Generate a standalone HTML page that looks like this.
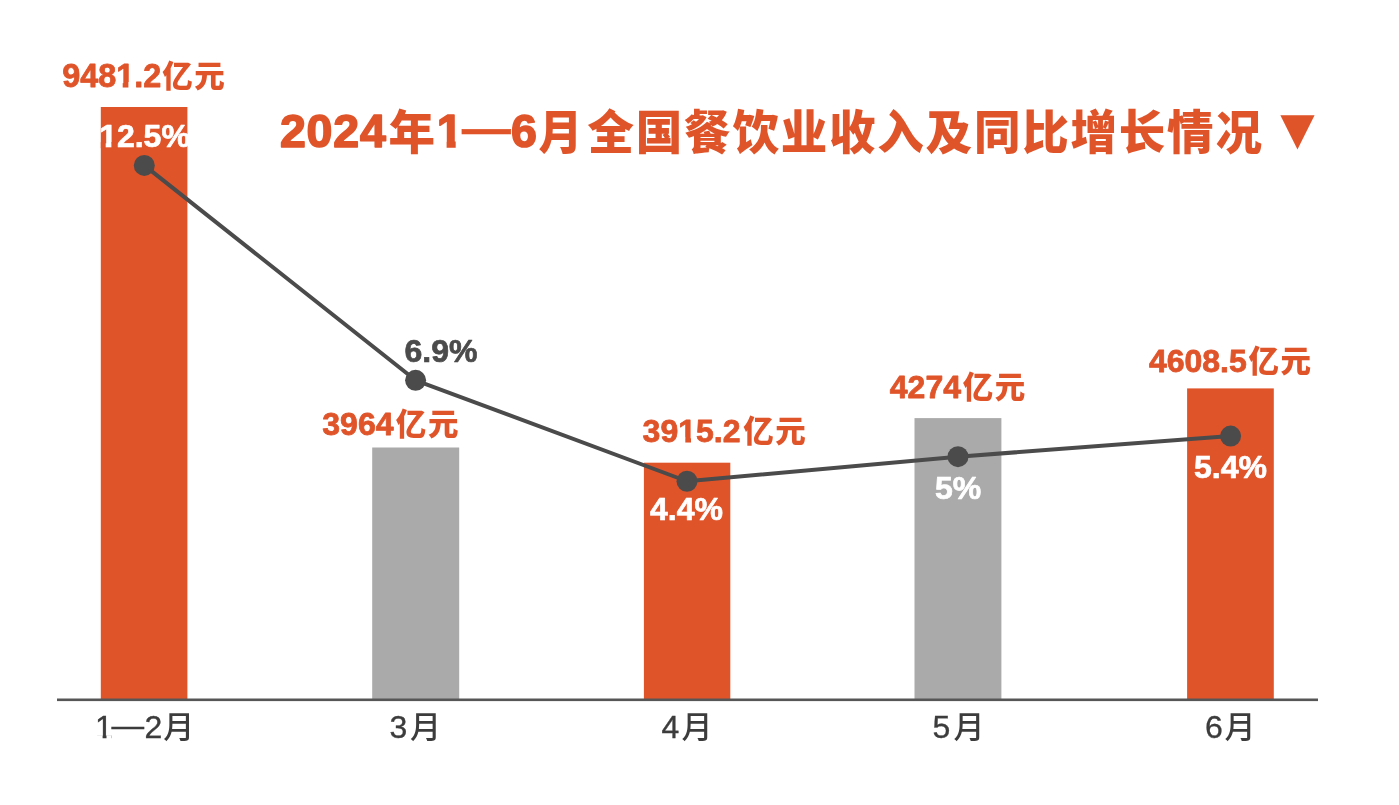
<!DOCTYPE html>
<html lang="zh-CN">
<head>
<meta charset="utf-8">
<title>2024年1—6月全国餐饮业收入及同比增长情况</title>
<style>
html,body{margin:0;padding:0;background:#fff;}
body{width:1399px;height:805px;overflow:hidden;}
svg{display:block;}
.v{font-family:"Liberation Sans",sans-serif;font-weight:700;font-size:32px;fill:#e0542a;stroke:#e0542a;stroke-width:0.8px;stroke-linejoin:round;}
.v .c{font-family:"Noto Sans CJK SC",sans-serif;font-weight:900;font-size:30.5px;stroke:none;}
.p{font-family:"Liberation Sans",sans-serif;font-weight:700;font-size:32px;stroke-width:0.7px;stroke-linejoin:round;}
.m{font-family:"Liberation Sans",sans-serif;font-weight:400;font-size:32px;fill:#3c3c3c;stroke:#3c3c3c;stroke-width:0.35px;}
.m .mc{font-family:"Noto Sans CJK SC",sans-serif;font-weight:500;font-size:31px;stroke:none;}
.t{font-family:"Noto Sans CJK SC",sans-serif;font-weight:900;font-size:46.5px;fill:#e0542a;}
.t .ta{font-family:"DejaVu Sans",sans-serif;font-weight:400;font-size:44.8px;}
.t .tm{font-family:"Liberation Sans",sans-serif;font-weight:700;font-size:46.5px;stroke:#e0542a;stroke-width:0.7px;}
.t .td{font-family:"Liberation Sans",sans-serif;font-weight:700;font-size:46.5px;stroke:#e0542a;stroke-width:1.6px;stroke-linejoin:round;}
</style>
</head>
<body>
<svg width="1399" height="805" viewBox="0 0 1399 805">
<rect width="1399" height="805" fill="#ffffff"/>
<!-- bars -->
<rect x="100.8" y="107" width="86.6" height="593" fill="#e0542a"/>
<rect x="372.2" y="447.5" width="87" height="252.5" fill="#aaaaaa"/>
<rect x="643.9" y="462.7" width="86.4" height="237.3" fill="#e0542a"/>
<rect x="914.5" y="418.1" width="86.9" height="281.9" fill="#aaaaaa"/>
<rect x="1187.1" y="388.4" width="86.7" height="311.6" fill="#e0542a"/>
<!-- axis -->
<rect x="57" y="698.5" width="1261" height="2.6" fill="#565656"/>
<!-- line -->
<polyline points="144.3,165.4 415.6,380.3 687,481.25 958,456.65 1230.6,436.1" fill="none" stroke="#4b4b4b" stroke-width="4" stroke-linejoin="round"/>
<g fill="#4b4b4b">
<circle cx="144.3" cy="165.4" r="10.5"/>
<circle cx="415.6" cy="380.3" r="10.5"/>
<circle cx="687" cy="481.25" r="10.5"/>
<circle cx="958" cy="456.65" r="10.5"/>
<circle cx="1230.6" cy="436.1" r="10.5"/>
</g>
<!-- value labels -->
<text class="v" x="62.2" y="87.0" style="font-size:32.4px">9481.2<tspan class="c" x="162.2 194.3">亿元</tspan></text>
<text class="v" x="322.3" y="434.7">3964<tspan class="c" x="395.8 427.9">亿元</tspan></text>
<text class="v" x="642.6" y="442.2">3915.2<tspan class="c" x="743.2 775.3">亿元</tspan></text>
<text class="v" x="889.8" y="398.2">4274<tspan class="c" x="962.7 994.8">亿元</tspan></text>
<text class="v" x="1148.9" y="372.2">4608.5<tspan class="c" x="1248.5 1280.6">亿元</tspan></text>
<!-- percent labels -->
<text class="p" x="144.5" y="147" text-anchor="middle" fill="#ffffff" stroke="#ffffff">12.5%</text>
<text class="p" x="441" y="361.9" text-anchor="middle" fill="#4b4b4b" stroke="#4b4b4b">6.9%</text>
<text class="p" x="686.5" y="520.2" text-anchor="middle" fill="#ffffff" stroke="#ffffff">4.4%</text>
<text class="p" x="958" y="499" text-anchor="middle" fill="#ffffff" stroke="#ffffff">5%</text>
<text class="p" x="1230.5" y="478" text-anchor="middle" fill="#ffffff" stroke="#ffffff">5.4%</text>
<!-- month labels -->
<text class="m" y="738.2"><tspan x="95">1</tspan><tspan x="111.6" dy="-2.4" textLength="32.6" lengthAdjust="spacingAndGlyphs">—</tspan><tspan x="144.5" dy="2.4">2</tspan><tspan class="mc" x="163.2">月</tspan></text>
<text class="m" y="738.2"><tspan x="389.6">3</tspan><tspan class="mc" x="410.1">月</tspan></text>
<text class="m" y="738.2"><tspan x="661.6">4</tspan><tspan class="mc" x="681.4">月</tspan></text>
<text class="m" y="738.2"><tspan x="932.4">5</tspan><tspan class="mc" x="953.4">月</tspan></text>
<text class="m" y="738.2"><tspan x="1205">6</tspan><tspan class="mc" x="1224.4">月</tspan></text>
<!-- title -->
<text class="t"><tspan class="td" x="279.9 306.6 333.3 360" y="147.2">2024</tspan><tspan x="388.4" y="148.6">年</tspan><tspan class="td" x="436.8" y="147.2">1</tspan><tspan class="tm" x="462" y="143.6" textLength="48.7" lengthAdjust="spacingAndGlyphs">—</tspan><tspan class="td" x="511" y="147.2">6</tspan><tspan x="538.5" y="148.6" textLength="43.7" lengthAdjust="spacingAndGlyphs">月</tspan><tspan x="587.5 635.8 684.1 732.4 780.7 829.0 877.3 925.6 973.9 1022.2 1070.5 1118.8 1167.1 1215.4" y="148.6">全国餐饮业收入及同比增长情况</tspan><tspan class="ta" x="1280.2" y="143.9">▼</tspan></text>
<!-- trim serif feet of the digit 1 to mimic the reference typeface -->
<g fill="#ffffff">
<rect x="437.3" y="140.9" width="9.3" height="8.5"/><rect x="455.7" y="140.9" width="8.3" height="8.5"/>
<rect x="115.6" y="82.2" width="7.1" height="6"/><rect x="128.4" y="82.2" width="6" height="6"/>
<rect x="678.4" y="437.4" width="6.9" height="6"/><rect x="691" y="437.4" width="6" height="6"/>
<rect x="95.6" y="735.2" width="7" height="4"/><rect x="106.5" y="735.2" width="5" height="4"/>
</g>
<g fill="#e0542a">
<rect x="100.8" y="142.2" width="4.9" height="6"/><rect x="111.4" y="142.2" width="5.8" height="6"/>
</g>
</svg>
</body>
</html>
